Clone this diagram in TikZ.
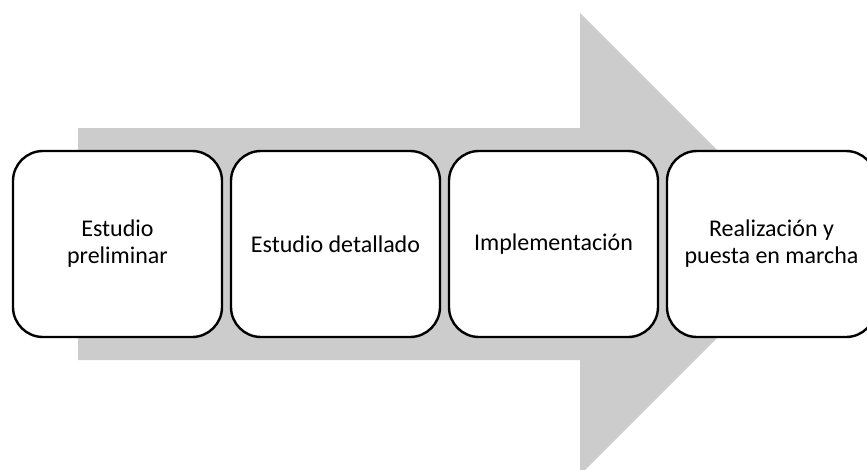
\documentclass[tikz,border=0pt]{standalone}
\usepackage{fontspec}
\setmainfont{Carlito}
\usetikzlibrary{positioning}

\definecolor{arrowgrey}{RGB}{204, 204, 204}

\begin{document}
\begin{tikzpicture}[x = 1pt, y = -1pt,
	stage/.style = {draw, line width = 2.4pt, rounded corners = 30pt, fill = white,
		minimum width = 209pt, minimum height = 186pt, inner sep = 0pt, outer sep = 0pt,
		align = center, font = \fontsize{24}{27}\selectfont}]

	\useasboundingbox (0, 0) rectangle (867, 469);
	\clip (0, 0) rectangle (867, 469);

	% Big arrow behind the stages

	\fill [arrowgrey] (78, 128) -- (580, 128) -- (580, 13) -- (811, 244)
		-- (580, 475) -- (580, 360) -- (78, 360) -- cycle;

	% Stages, left to right

	\node [stage] (preliminar) at (117.5, 244) {Estudio\\preliminar};
	\node [stage, right = 9pt of preliminar] (detallado) {Estudio detallado};
	\node [stage, right = 9pt of detallado] (implementacion) {Implementación};
	\node [stage, right = 9pt of implementacion] (marcha) {Realización y\\puesta en marcha};

\end{tikzpicture}
\end{document}
